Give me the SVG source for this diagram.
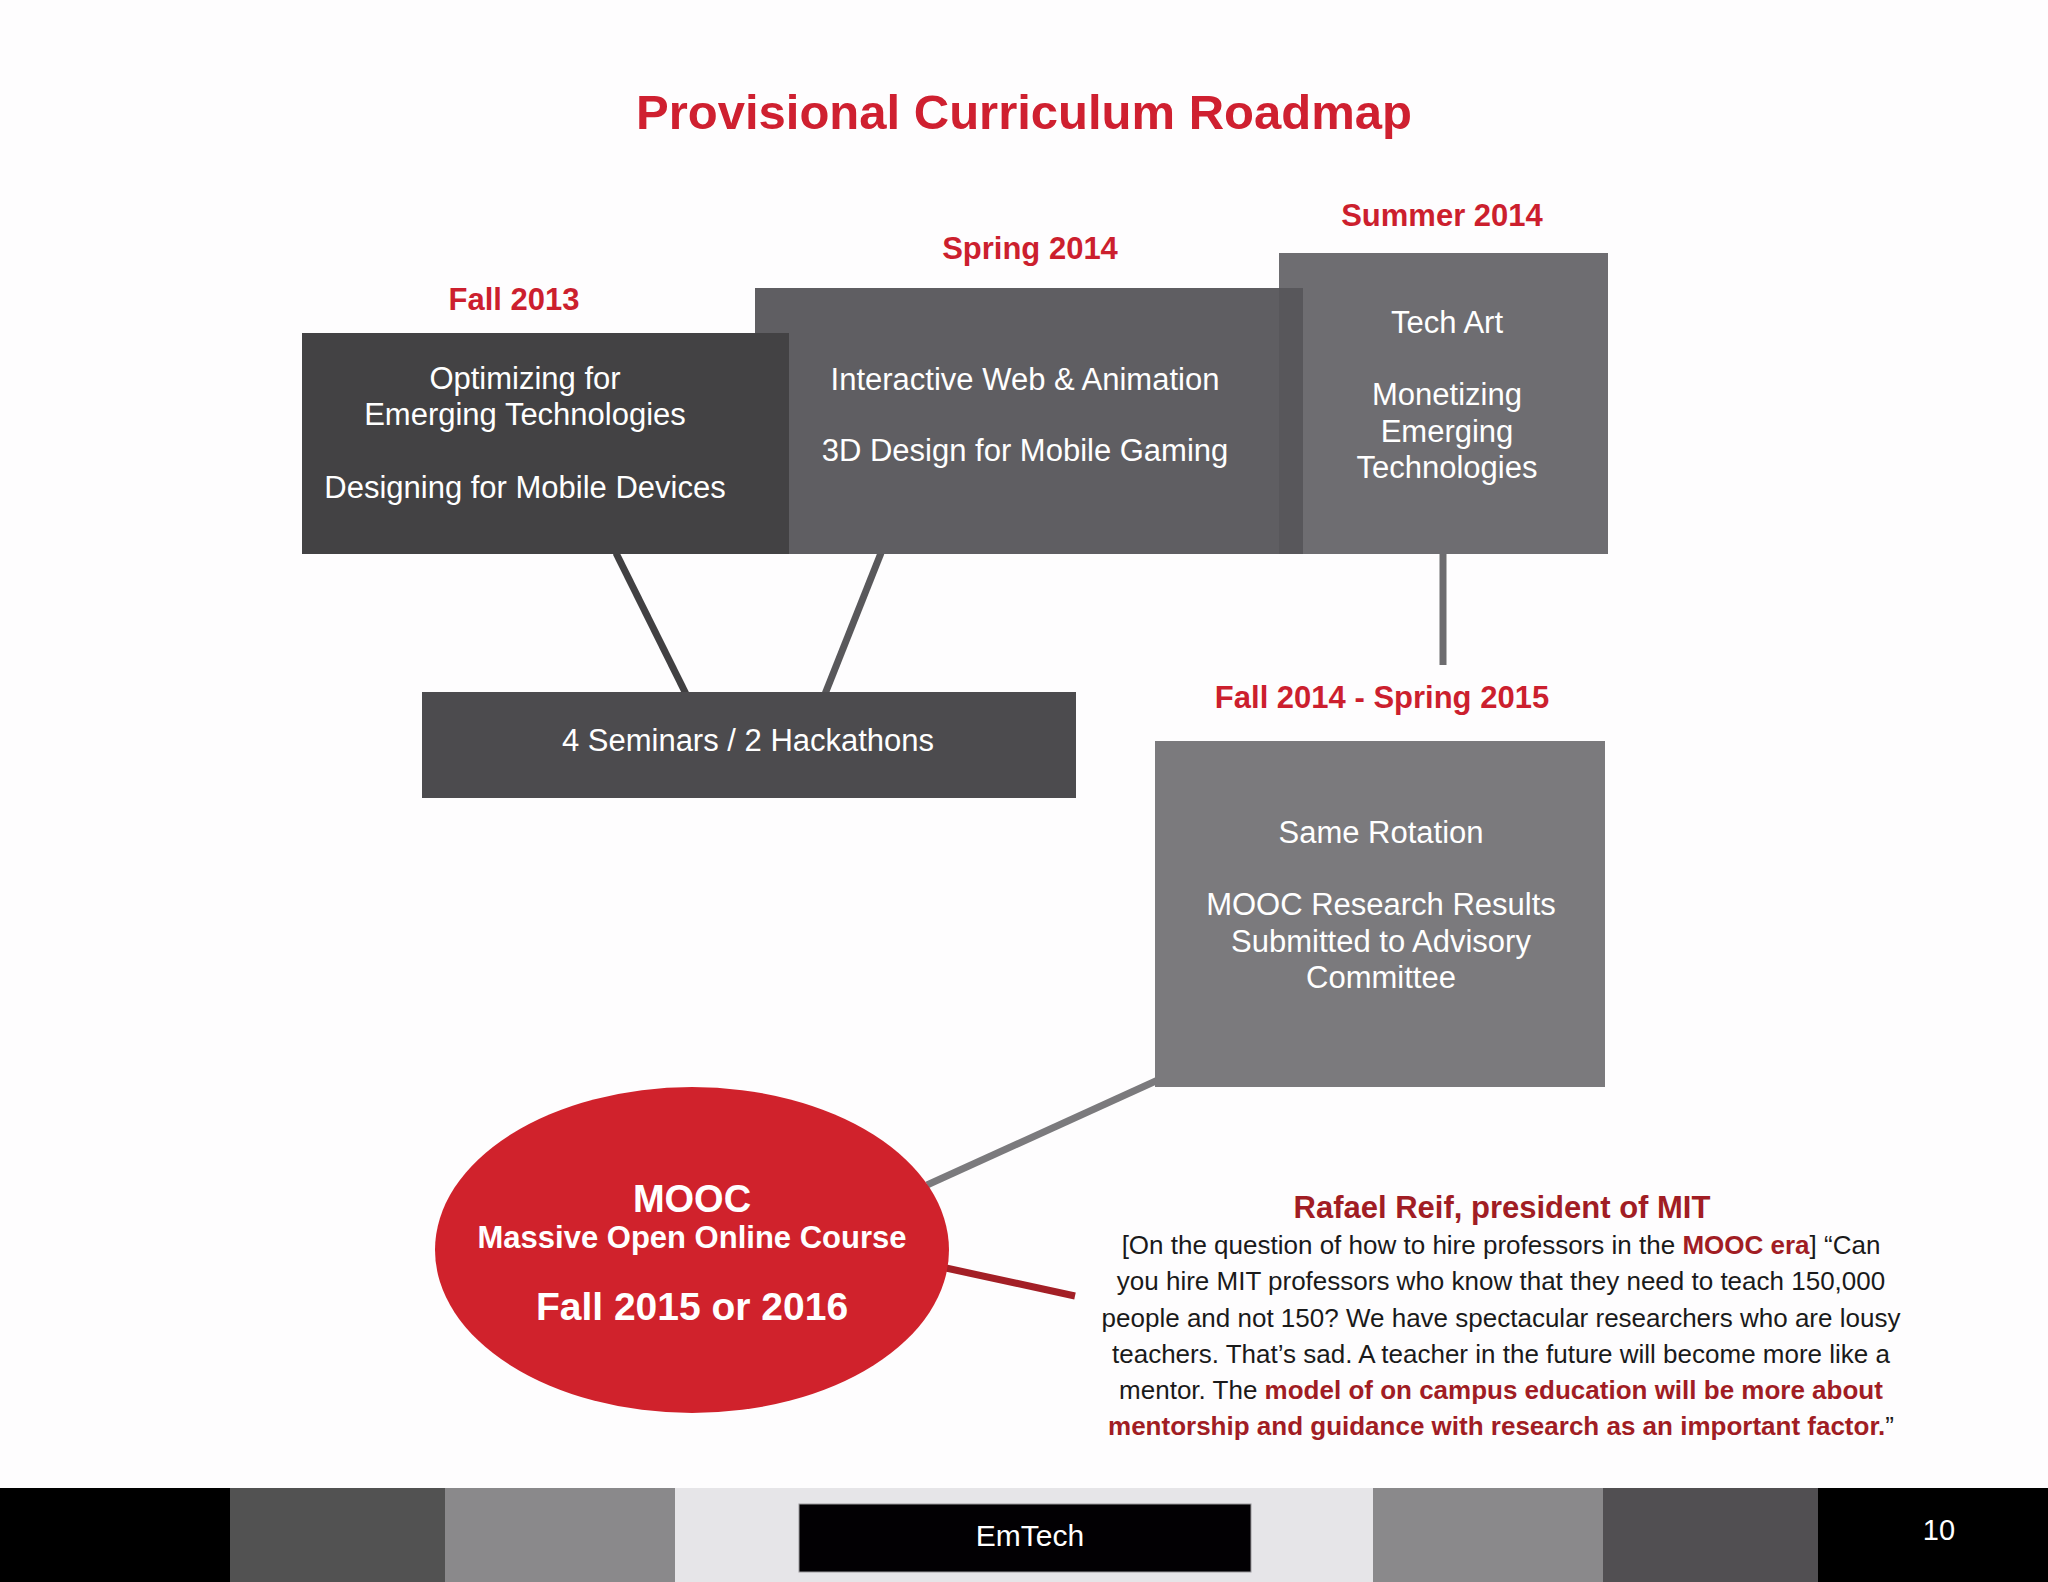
<svg xmlns="http://www.w3.org/2000/svg" width="2048" height="1582" viewBox="0 0 2048 1582">
<style>
  .sans { font-family: "Liberation Sans", Arial, sans-serif; }
  .label { font-family: "Liberation Sans", Arial, sans-serif; font-weight: bold; font-size: 31px; fill: #cc1f2e; text-anchor: middle; }
  .boxtxt { font-family: "Liberation Sans", Arial, sans-serif; font-size: 31px; fill: #ffffff; text-anchor: middle; }
  .conn { fill: none; stroke-width: 7; stroke-linecap: butt; }
  .quote { font-family: "Liberation Sans", Arial, sans-serif; font-size: 26px; fill: #1a1a1a; text-anchor: middle; }
  .qb { font-weight: bold; fill: #a11d24; }
</style>
<rect x="0" y="0" width="2048" height="1582" fill="#fefdfe"/>

<text id="title" x="1024" y="129" class="sans" font-size="49" font-weight="bold" fill="#cf2030" text-anchor="middle">Provisional Curriculum Roadmap</text>

<g id="connectors">
  <line class="conn" x1="616" y1="553" x2="686" y2="694" stroke="#414042"/>
  <line class="conn" x1="881" y1="553" x2="825" y2="694" stroke="#59585b"/>
  <line class="conn" x1="1443" y1="553" x2="1443" y2="665" stroke="#6d6c6f"/>
  <line class="conn" x1="1158" y1="1080" x2="927" y2="1185" stroke="#7b7a7d"/>
  <line class="conn" x1="946" y1="1268" x2="1075" y2="1296" stroke="#a31f26" stroke-width="8"/>
</g>

<g id="summer2014">
  <text class="label" x="1442" y="226">Summer 2014</text>
  <rect x="1279" y="253" width="329" height="301" fill="#6e6d71"/>
  <text class="boxtxt" x="1447" y="333">Tech Art</text>
  <text class="boxtxt" x="1447" y="405">Monetizing</text>
  <text class="boxtxt" x="1447" y="442">Emerging</text>
  <text class="boxtxt" x="1447" y="478">Technologies</text>
</g>

<g id="spring2014">
  <text class="label" x="1030" y="259">Spring 2014</text>
  <rect x="755" y="288" width="548" height="266" fill="#5f5e62"/>
  <rect x="1279" y="288" width="24" height="266" fill="#58575b"/>
  <text class="boxtxt" x="1025" y="390">Interactive Web &amp; Animation</text>
  <text class="boxtxt" x="1025" y="461">3D Design for Mobile Gaming</text>
</g>

<g id="fall2013">
  <text class="label" x="514" y="310">Fall 2013</text>
  <rect x="302" y="333" width="487" height="221" fill="#434244"/>
  <text class="boxtxt" x="525" y="389">Optimizing for</text>
  <text class="boxtxt" x="525" y="425">Emerging Technologies</text>
  <text class="boxtxt" x="525" y="498">Designing for Mobile Devices</text>
</g>

<g id="seminars">
  <rect x="422" y="692" width="654" height="106" fill="#4c4b4e"/>
  <text class="boxtxt" x="748" y="751">4 Seminars / 2 Hackathons</text>
</g>

<g id="fall2014">
  <text class="label" x="1382" y="708">Fall 2014 - Spring 2015</text>
  <rect x="1155" y="741" width="450" height="346" fill="#7b7a7d"/>
  <text class="boxtxt" x="1381" y="843">Same Rotation</text>
  <text class="boxtxt" x="1381" y="915">MOOC Research Results</text>
  <text class="boxtxt" x="1381" y="952">Submitted to Advisory</text>
  <text class="boxtxt" x="1381" y="988">Committee</text>
</g>

<g id="mooc">
  <ellipse cx="692" cy="1250" rx="257" ry="163" fill="#d0222c"/>
  <text x="692" y="1212" class="sans" font-size="38" font-weight="bold" fill="#ffffff" text-anchor="middle">MOOC</text>
  <text x="692" y="1248" class="sans" font-size="31" font-weight="bold" fill="#ffffff" text-anchor="middle">Massive Open Online Course</text>
  <text x="692" y="1320" class="sans" font-size="39" font-weight="bold" fill="#ffffff" text-anchor="middle">Fall 2015 or 2016</text>
</g>

<g id="quote">
  <text x="1502" y="1218" class="sans" font-size="31" font-weight="bold" fill="#a11d24" text-anchor="middle">Rafael Reif, president of MIT</text>
  <text class="quote" x="1501" y="1254">[On the question of how to hire professors in the <tspan class="qb">MOOC era</tspan>] “Can</text>
  <text class="quote" x="1501" y="1290">you hire MIT professors who know that they need to teach 150,000</text>
  <text class="quote" x="1501" y="1327">people and not 150? We have spectacular researchers who are lousy</text>
  <text class="quote" x="1501" y="1363">teachers. That’s sad. A teacher in the future will become more like a</text>
  <text class="quote" x="1501" y="1399">mentor. The <tspan class="qb">model of on campus education will be more about</tspan></text>
  <text class="quote" x="1501" y="1435"><tspan class="qb">mentorship and guidance with research as an important factor.</tspan>”</text>
</g>

<g id="footer">
  <rect x="0" y="1488" width="230" height="94" fill="#000000"/>
  <rect x="230" y="1488" width="215" height="94" fill="#525252"/>
  <rect x="445" y="1488" width="230" height="94" fill="#8a898b"/>
  <rect x="675" y="1488" width="698" height="94" fill="#e6e5e8"/>
  <rect x="1373" y="1488" width="230" height="94" fill="#8a898b"/>
  <rect x="1603" y="1488" width="215" height="94" fill="#514f52"/>
  <rect x="1818" y="1488" width="230" height="94" fill="#000000"/>
  <rect x="799" y="1504" width="452" height="68" fill="#020003" stroke="#9a999c" stroke-width="1"/>
  <text x="1030" y="1546" class="sans" font-size="30" fill="#ffffff" text-anchor="middle">EmTech</text>
  <text x="1939" y="1540" class="sans" font-size="29" fill="#ffffff" text-anchor="middle">10</text>
</g>
</svg>
